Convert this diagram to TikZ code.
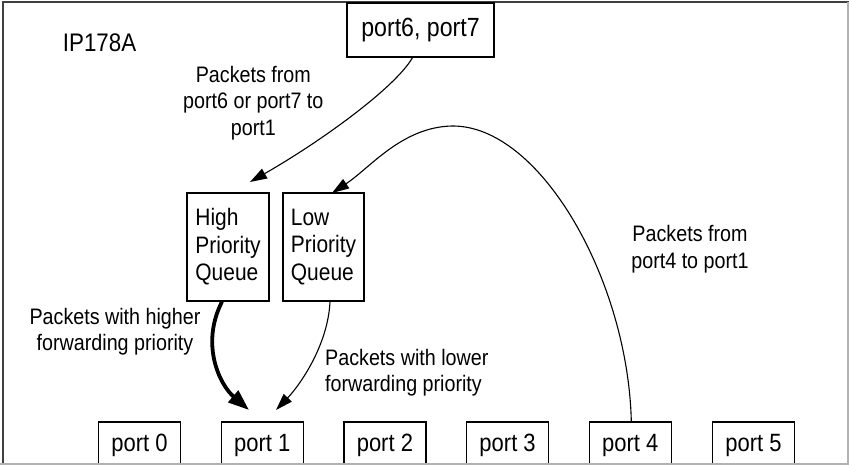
\documentclass[tikz,border=0pt]{standalone}
\usepackage{fontspec}
\setmainfont{Liberation Sans}[FakeStretch=0.88]
\usetikzlibrary{arrows.meta,calc}
\begin{document}
\begin{tikzpicture}[x=1pt,y=-1pt,
  boxstyle/.style={draw, line width=1.3pt, inner sep=0pt},
  portbox/.style={boxstyle, minimum width=82pt, minimum height=42pt,
    font=\fontsize{25}{28}\selectfont, text height=19pt, text depth=1.6pt},
  queuebox/.style={boxstyle, minimum width=82pt, minimum height=108pt, align=left,
    font=\fontsize{23.8}{27.5}\selectfont},
  lbl/.style={inner sep=0pt, align=center, font=\fontsize{22.4}{26.5}\selectfont},
  arr/.style={line width=1.1pt, -{Triangle[length=17pt,width=11pt]}},
  thickarr/.style={line width=3.8pt, -{Triangle[length=21pt,width=15pt]}}
]
\useasboundingbox (0,0) rectangle (849,465);
% frame
\draw[line width=2pt, black!75] (2.5,465) -- (2.5,2.5) -- (849,2.5);
% top box
\node[boxstyle, minimum width=147pt, minimum height=54pt,
  font=\fontsize{26.3}{30}\selectfont] (p67) at (420.5,30) {port6, port7};
\node[anchor=base west, inner sep=0pt, font=\fontsize{25.4}{30}\selectfont] (ip) at (62.7,51.7) {IP178A};
% queues
\node[queuebox] (high) at (228,247) {High\\Priority\\Queue};
\node[queuebox, minimum width=81pt] (low) at (323.5,247) {Low\\Priority\\Queue};
% ports
\foreach \i/\x in {0/139.5,1/262.2,2/384.9,3/507.6,4/630.3,5/753.5}
  \node[portbox] (port\i) at (\x,443) {port \i};
% bottom and right edges
\draw[line width=2pt, black!30] (0,464) -- (848,464) -- (848,2);
% labels
\node[lbl] (l1) at (253.3,103) {Packets from\\port6 or port7 to\\port1};
\node[lbl] (l2) at (115,331.5) {Packets with higher\\forwarding priority};
\node[lbl, align=left, anchor=west] (l3) at (325,372.5) {Packets with lower\\forwarding priority};
\node[lbl] (l4) at (690,249) {Packets from\\port4 to port1};
% connectors
\coordinate (t1) at (250,182);
\coordinate (t2) at (332,193);
\coordinate (t3) at (249,410);
\coordinate (t4) at (276,410);
\draw[arr] ($(p67.south)+(-8,0)$) .. controls (395,88) and (320,142) .. (t1);
\draw[arr] ($(port4.north)+(1,0)$) .. controls (628,280) and (540,125) .. (452,126)
  .. controls (402,127) and (370,168) .. (t2);
\draw[thickarr] ($(high.south)+(-6,0)$) .. controls (200,345) and (220,385) .. (t3);
\draw[arr] ($(low.south)+(6.5,0)$) .. controls (328,345) and (300,385) .. (t4);
\end{tikzpicture}
\end{document}
